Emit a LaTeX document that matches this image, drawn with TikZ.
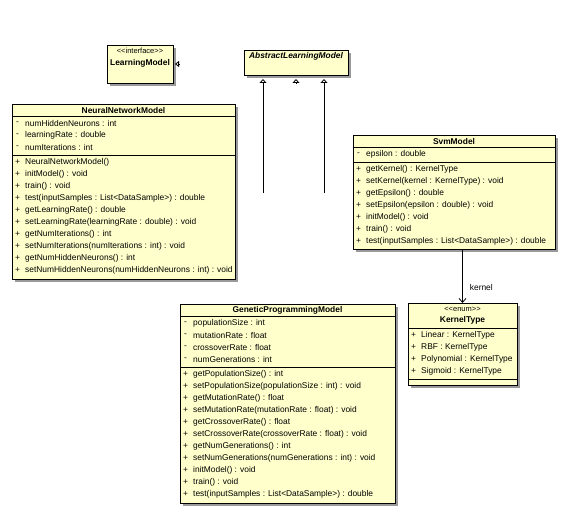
\documentclass[tikz,border=0pt]{standalone}
\usepackage{fontspec}
\setmainfont{Liberation Sans}
\usetikzlibrary{arrows.meta, shadows}
\definecolor{umlfill}{HTML}{FFFFCC}
\definecolor{umlshadow}{HTML}{9A9A9A}

\begin{document}
\begin{tikzpicture}[x=1pt, y=-1pt, font=\fontsize{8.4}{9}\selectfont,
    classbox/.style={draw, line width=0.9pt, fill=umlfill, inner sep=0pt, outer sep=0pt,
      anchor=north west, drop shadow={shadow xshift=3pt, shadow yshift=-3pt, fill=umlshadow, opacity=1}},
    member/.style={anchor=west, inner sep=0pt},
    cname/.style={inner sep=0pt, font=\fontsize{8.4}{9}\selectfont\bfseries},
    stereo/.style={inner sep=0pt, font=\fontsize{7.5}{8}\selectfont},
    sep/.style={line width=0.9pt},
    gen/.style={line width=0.8pt, -{Triangle[open, length=4pt, width=7pt]}},
    assoc/.style={line width=0.8pt, -{Straight Barb[length=4pt, width=7pt]}}]
  \useasboundingbox (0,0) rectangle (565,516);

  % interface
  \node[classbox, minimum width=66pt, minimum height=38pt] (lm) at (107,45) {};
  \node[stereo] (lm-st) at (140,51) {<{}<interface>{}>};
  \node[cname] (lm-n) at (140,63) {LearningModel};

  % abstract base class
  \node[classbox, minimum width=104pt, minimum height=25pt] (alm) at (244,50) {};
  \node[cname, font=\fontsize{8.4}{9}\selectfont\bfseries\itshape] (alm-n) at (296,56) {AbstractLearningModel};

  % NeuralNetworkModel
  \node[classbox, minimum width=223pt, minimum height=175pt] (nnm) at (12,104) {};
  \node[cname] (nnm-n) at (123.5,110) {NeuralNetworkModel};
  \draw[sep] ([yshift=-12pt]nnm.north west) -- ([yshift=-12pt]nnm.north east);
  \draw[sep] ([yshift=-51pt]nnm.north west) -- ([yshift=-51pt]nnm.north east);
  \foreach \t [count=\i from 0] in {numHiddenNeurons : int, learningRate : double, numIterations : int} {
    \node[member] (nnm-ap\i) at (16,{123+12*\i}) {-};
    \node[member] (nnm-a\i) at (25,{123+12*\i}) {\t};
  }
  \foreach \t [count=\i from 0] in {NeuralNetworkModel(), initModel() : void, train() : void,
      test(inputSamples : List<DataSample>) : double, getLearningRate() : double,
      setLearningRate(learningRate : double) : void, getNumIterations() : int,
      setNumIterations(numIterations : int) : void, getNumHiddenNeurons() : int,
      setNumHiddenNeurons(numHiddenNeurons : int) : void} {
    \node[member] (nnm-mp\i) at (15,{162+12*\i}) {+};
    \node[member] (nnm-m\i) at (25,{162+12*\i}) {\t};
  }

  % SvmModel
  \node[classbox, minimum width=202pt, minimum height=114pt] (svm) at (353,135) {};
  \node[cname] (svm-n) at (454,141) {SvmModel};
  \draw[sep] ([yshift=-12pt]svm.north west) -- ([yshift=-12pt]svm.north east);
  \draw[sep] ([yshift=-27pt]svm.north west) -- ([yshift=-27pt]svm.north east);
  \node[member] (svm-ap0) at (357,154.5) {-};
  \node[member] (svm-a0) at (366,154.5) {epsilon : double};
  \foreach \t [count=\i from 0] in {getKernel() : KernelType, setKernel(kernel : KernelType) : void,
      getEpsilon() : double, setEpsilon(epsilon : double) : void, initModel() : void,
      train() : void, test(inputSamples : List<DataSample>) : double} {
    \node[member] (svm-mp\i) at (356,{169+12*\i}) {+};
    \node[member] (svm-m\i) at (366,{169+12*\i}) {\t};
  }

  % KernelType
  \node[classbox, minimum width=109pt, minimum height=82pt] (kt) at (408,303) {};
  \node[stereo] (kt-st) at (462.5,309) {<{}<enum>{}>};
  \node[cname] (kt-n) at (462.5,320) {KernelType};
  \draw[sep] ([yshift=-25pt]kt.north west) -- ([yshift=-25pt]kt.north east);
  \draw[sep] ([yshift=-76pt]kt.north west) -- ([yshift=-76pt]kt.north east);
  \foreach \t [count=\i from 0] in {Linear, RBF, Polynomial, Sigmoid} {
    \node[member] (kt-p\i) at (411,{335+12*\i}) {+};
    \node[member] (kt-v\i) at (421,{335+12*\i}) {\t\ : KernelType};
  }

  % GeneticProgrammingModel
  \node[classbox, minimum width=215pt, minimum height=199pt] (gpm) at (180,304) {};
  \node[cname] (gpm-n) at (287.5,310) {GeneticProgrammingModel};
  \draw[sep] ([yshift=-12pt]gpm.north west) -- ([yshift=-12pt]gpm.north east);
  \draw[sep] ([yshift=-63pt]gpm.north west) -- ([yshift=-63pt]gpm.north east);
  \foreach \t [count=\i from 0] in {populationSize : int, mutationRate : float,
      crossoverRate : float, numGenerations : int} {
    \node[member] (gpm-ap\i) at (184,{323+12*\i}) {-};
    \node[member] (gpm-a\i) at (193,{323+12*\i}) {\t};
  }
  \foreach \t [count=\i from 0] in {getPopulationSize() : int,
      setPopulationSize(populationSize : int) : void, getMutationRate() : float,
      setMutationRate(mutationRate : float) : void, getCrossoverRate() : float,
      setCrossoverRate(crossoverRate : float) : void, getNumGenerations() : int,
      setNumGenerations(numGenerations : int) : void, initModel() : void, train() : void,
      test(inputSamples : List<DataSample>) : double} {
    \node[member] (gpm-mp\i) at (183,{374+12*\i}) {+};
    \node[member] (gpm-m\i) at (193,{374+12*\i}) {\t};
  }

  % generalisation tips and loose lines
  \coordinate (lmtail) at (180,64);
  \draw[gen, shorten >=2pt, -{Triangle[open, length=4pt, width=6pt]}] (lmtail) -- (lmtail -| lm.east);
  \coordinate (g1) at (263,193);
  \coordinate (g2) at (296,84);
  \coordinate (g3) at (324,193);
  \draw[gen, shorten >=4pt] (g1) -- (g1 |- alm.south);
  \draw[gen, shorten >=4pt] (g2) -- (g2 |- alm.south);
  \draw[gen, shorten >=4pt] (g3) -- (g3 |- alm.south);

  % association
  \draw[assoc] (kt.north |- svm.south) -- node[pos=0.72, anchor=west, xshift=7pt, inner sep=0pt] {kernel} (kt.north);
\end{tikzpicture}
\end{document}
